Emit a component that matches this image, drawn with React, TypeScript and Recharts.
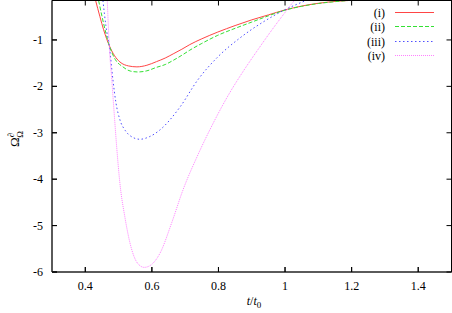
import React from 'react';
import { LineChart, Line, XAxis, YAxis, ReferenceArea } from 'recharts';

// series (i)
const tI = [0.431, 0.444, 0.455, 0.472, 0.487, 0.504, 0.53, 0.555, 0.585, 0.614, 0.64, 0.664, 0.69, 0.714, 0.75, 0.798, 0.85, 0.9, 0.95, 0.999, 1.05, 1.1, 1.15, 1.19];
const vI = [-0.15, -0.5, -0.78, -1.12, -1.33, -1.474, -1.56, -1.58, -1.545, -1.467, -1.39, -1.3, -1.2, -1.1, -0.975, -0.83, -0.69, -0.567, -0.46, -0.355, -0.27, -0.21, -0.17, -0.15];
// series (ii)
const tII = [0.44, 0.452, 0.472, 0.49, 0.513, 0.535, 0.558, 0.585, 0.614, 0.64, 0.664, 0.69, 0.714, 0.75, 0.798, 0.85, 0.9, 0.95, 0.999, 1.05, 1.1, 1.15, 1.19];
const vII = [-0.15, -0.55, -1.12, -1.42, -1.58, -1.67, -1.69, -1.665, -1.59, -1.53, -1.44, -1.33, -1.22, -1.075, -0.9, -0.75, -0.615, -0.48, -0.36, -0.275, -0.215, -0.175, -0.15];
// series (iii)
const tIII = [0.453, 0.462, 0.472, 0.483, 0.492, 0.504, 0.52, 0.534, 0.564, 0.594, 0.624, 0.684, 0.738, 0.798, 0.864, 0.9, 0.93, 0.999, 1.063];
const vIII = [-0.15, -0.7, -1.12, -1.86, -2.35, -2.72, -2.95, -3.06, -3.14, -3.08, -2.94, -2.45, -1.86, -1.366, -0.96, -0.772, -0.632, -0.351, -0.15];
// series (iv)
const tIV = [0.466, 0.472, 0.48, 0.488, 0.495, 0.504, 0.519, 0.54, 0.558, 0.577, 0.597, 0.624, 0.66, 0.693, 0.738, 0.783, 0.828, 0.873, 0.918, 0.963, 0.999, 1.028];
const vIV = [-0.15, -1.12, -1.9, -2.7, -3.37, -4.09, -4.82, -5.53, -5.82, -5.9, -5.85, -5.6, -4.93, -4.24, -3.48, -2.81, -2.21, -1.69, -1.215, -0.76, -0.416, -0.15];

const xTicks = [0.4, 0.6, 0.8, 1, 1.2, 1.4];
const yTicks = [-6, -5, -4, -3, -2, -1];
const seriesNames = ['(i)', '(ii)', '(iii)', '(iv)'];

const zip = (t: number[], v: number[]) => t.map((x, i) => ({ t: x, v: v[i] }));
const seriesData = [zip(tI, vI), zip(tII, vII), zip(tIII, vIII), zip(tIV, vIV)];

const seriesStyle = [
  { color: '#ff4545', dash: undefined as string | undefined },
  { color: '#33e033', dash: '4 2' },
  { color: '#5050ff', dash: '1.5 2.5' },
  { color: '#ff80ff', dash: '1 1' },
];

const FONT = "'Liberation Serif', 'Times New Roman', serif";
const X_DOMAIN: [number, number] = [0.3, 1.5];
const Y_DOMAIN: [number, number] = [-6, -0.15];

const W = 452;
const H = 313;
const M_TOP = 0.5;
const M_RIGHT = 0.5;
const X_AXIS_H = 41;
const Y_AXIS_W = 52;
const PLOT_H = H - M_TOP - X_AXIS_H;
const PLOT_W = W - M_RIGHT - Y_AXIS_W;
const TICK = 5;

// axis frame helpers (same linear mapping as the chart's axes)
const axX = (t: number) => Y_AXIS_W + ((t - X_DOMAIN[0]) / (X_DOMAIN[1] - X_DOMAIN[0])) * PLOT_W;
const axY = (v: number) => M_TOP + ((Y_DOMAIN[1] - v) / (Y_DOMAIN[1] - Y_DOMAIN[0])) * PLOT_H;

const BottomTick = (p: any) => {
  const { x, y, payload } = p;
  return (
    <g>
      <line x1={x} x2={x} y1={y} y2={y - TICK} stroke="#000" strokeWidth={1} />
      <text x={x} y={y + 18} textAnchor="middle" fontSize={12} fontFamily={FONT} fill="#000">
        {String(payload.value)}
      </text>
    </g>
  );
};

const LeftTick = (p: any) => {
  const { x, y, payload } = p;
  return (
    <g>
      <line x1={x} x2={x + TICK} y1={y} y2={y} stroke="#000" strokeWidth={1} />
      <text x={x - 9} y={y + 4} textAnchor="end" fontSize={12} fontFamily={FONT} fill="#000">
        {String(payload.value)}
      </text>
    </g>
  );
};

export default function App() {
  const top = M_TOP;
  const right = W - M_RIGHT;
  const bottom = M_TOP + PLOT_H;
  return (
    <div style={{ position: 'absolute', left: 0, top: 0, width: W, height: H }}>
      <LineChart width={W} height={H} margin={{ top: M_TOP, right: M_RIGHT, bottom: 0, left: 0 }}>
        <XAxis
          xAxisId="b"
          dataKey="t"
          type="number"
          domain={X_DOMAIN}
          ticks={xTicks}
          tickSize={0}
          tickMargin={0}
          height={X_AXIS_H}
          axisLine={{ stroke: '#5a5a5a', strokeWidth: 2 }}
          tickLine={false}
          tick={<BottomTick />}
        />
        <YAxis
          yAxisId="l"
          type="number"
          domain={Y_DOMAIN}
          ticks={yTicks}
          tickSize={0}
          tickMargin={0}
          width={Y_AXIS_W}
          axisLine={{ stroke: '#5a5a5a', strokeWidth: 2 }}
          tickLine={false}
          tick={<LeftTick />}
        />
        <ReferenceArea
          xAxisId="b"
          yAxisId="l"
          x1={X_DOMAIN[0]}
          x2={X_DOMAIN[1]}
          y1={Y_DOMAIN[0]}
          y2={Y_DOMAIN[1]}
          fill="none"
          stroke="#000"
          strokeWidth={1}
          ifOverflow="visible"
        />
        {seriesData.map((d, i) => (
          <Line
            key={seriesNames[i]}
            xAxisId="b"
            yAxisId="l"
            data={d}
            dataKey="v"
            name={seriesNames[i]}
            type="monotone"
            stroke={seriesStyle[i].color}
            strokeDasharray={seriesStyle[i].dash}
            strokeWidth={1}
            dot={false}
            activeDot={false}
            isAnimationActive={false}
          />
        ))}
      </LineChart>
      <svg
        width={W}
        height={H}
        style={{ position: 'absolute', left: 0, top: 0, pointerEvents: 'none' }}
      >
        <line x1={Y_AXIS_W} x2={W} y1={top} y2={top} stroke="#000" strokeWidth={1} />
        <line x1={right} x2={right} y1={0} y2={bottom} stroke="#000" strokeWidth={1} />
        {xTicks.map((t) => (
          <g key={'xt' + t}>
            <line x1={axX(t)} x2={axX(t)} y1={bottom} y2={bottom - TICK} stroke="#000" />
            <line x1={axX(t)} x2={axX(t)} y1={top} y2={top + TICK} stroke="#000" />
          </g>
        ))}
        {yTicks.map((v) => (
          <g key={'yt' + v}>
            <line x1={Y_AXIS_W} x2={Y_AXIS_W + TICK} y1={axY(v)} y2={axY(v)} stroke="#000" />
            <line x1={right} x2={right - TICK} y1={axY(v)} y2={axY(v)} stroke="#000" />
          </g>
        ))}
        {seriesNames.map((n, i) => {
          const y = [12.5, 26.5, 41.5, 55.5][i];
          return (
            <g key={n}>
              <text x={385} y={y + 4} textAnchor="end" fontSize={12} fontFamily={FONT} fill="#000">
                {n}
              </text>
              <line
                x1={395}
                x2={434}
                y1={y}
                y2={y}
                stroke={seriesStyle[i].color}
                strokeDasharray={seriesStyle[i].dash}
                strokeWidth={1}
              />
            </g>
          );
        })}
        <text x={254} y={305} textAnchor="middle" fontSize={12} fontFamily={FONT} fill="#000">
          <tspan fontStyle="italic">t</tspan>/<tspan fontStyle="italic">t</tspan>
          <tspan fontSize={9} dy={3}>0</tspan>
        </text>
        <text
          x={0}
          y={0}
          transform="translate(19,139) rotate(-90)"
          textAnchor="middle"
          fontSize={13}
          fontFamily={FONT}
          fill="#000"
        >
          Ω<tspan fontSize={9} dy={-5}>∂</tspan>
          <tspan fontSize={9} dx={-5} dy={9}>Ω</tspan>
        </text>
      </svg>
    </div>
  );
}
